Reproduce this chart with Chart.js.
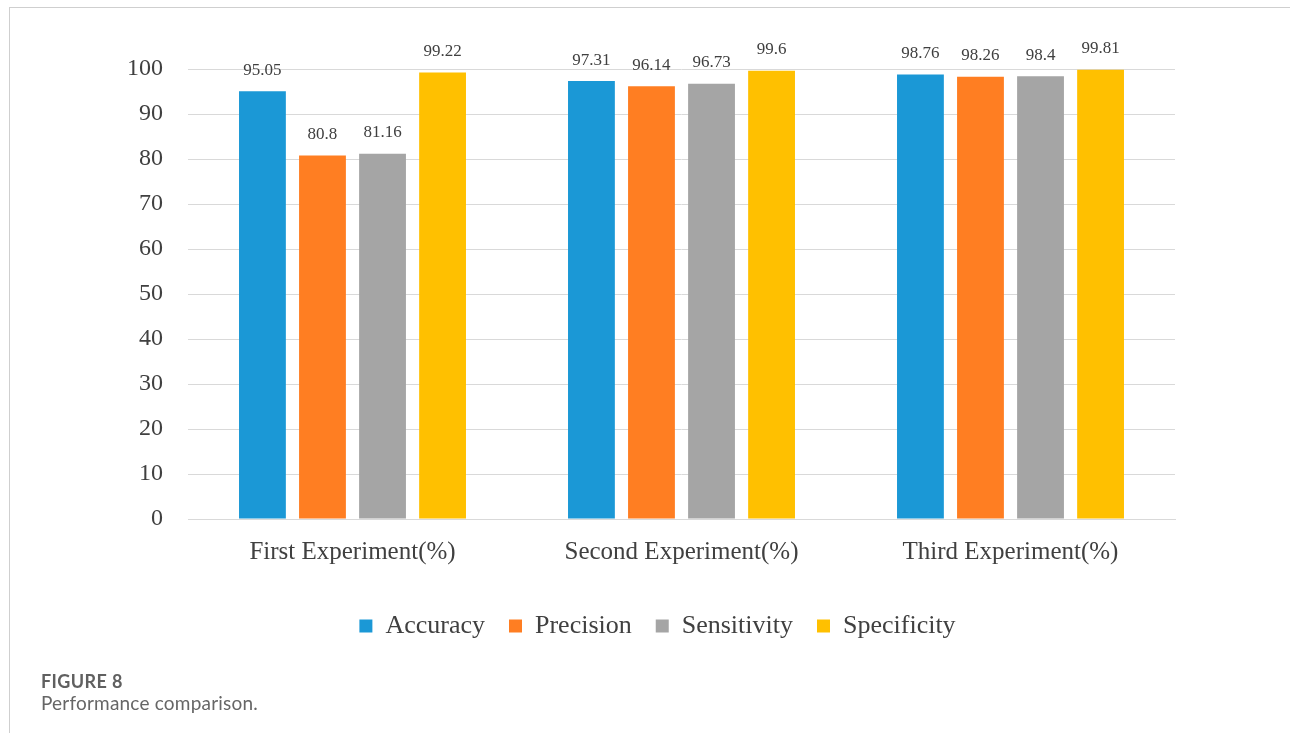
<!DOCTYPE html>
<html>
<head>
<meta charset="utf-8">
<script src="https://cdn.jsdelivr.net/npm/chart.js@4.4.1/dist/chart.umd.min.js"></script>
<style>
    html, body { margin: 0; padding: 0; background: #fff; }
    #wrap { position: relative; width: 1290px; height: 733px; overflow: hidden; }
    #frame { position: absolute; left: 9px; top: 7px; width: 1300px; height: 740px;
             border-top: 1px solid #cfcfcf; border-left: 1px solid #cfcfcf; }
    #chart { position: absolute; left: 0; top: 0; }
    .cap { position: absolute; left: 41px; font-family: Lato, 'Open Sans', sans-serif; color: #5a5a5a; }
    #figNo { top: 670px; font-size: 18px; font-weight: 700; letter-spacing: 0.4px; color: #606060; }
    #figText { top: 691px; font-size: 19px; letter-spacing: 0.2px; color: #666; }
</style>
</head>
<body>
<div id="wrap">
    <div id="frame"></div>
    <canvas id="chart" width="1290" height="733"></canvas>
    <div class="cap" id="figNo">FIGURE 8</div>
    <div class="cap" id="figText">Performance comparison.</div>
</div>
<script>
// --- Data ---
const categories = ['First Experiment(%)', 'Second Experiment(%)', 'Third Experiment(%)'];
const seriesNames = ['Accuracy', 'Precision', 'Sensitivity', 'Specificity'];
const accuracy = [95.05, 97.31, 98.76];
const precision = [80.8, 96.14, 98.26];
const sensitivity = [81.16, 96.73, 98.4];
const specificity = [99.22, 99.6, 99.81];
const seriesColors = ['#1B98D6', '#FF7E22', '#A5A5A5', '#FFC000'];

const serif = "'Liberation Serif', 'Times New Roman', serif";

// --- Value labels above each bar ---
const valueLabels = {
    id: 'valueLabels',
    afterDatasetsDraw(chart) {
        const ctx = chart.ctx;
        ctx.save();
        ctx.font = '17px ' + serif;
        ctx.fillStyle = '#404040';
        ctx.textAlign = 'center';
        ctx.textBaseline = 'middle';
        chart.data.datasets.forEach((ds, i) => {
            chart.getDatasetMeta(i).data.forEach((bar, j) => {
                ctx.fillText(String(ds.data[j]), bar.x, bar.y - 21);
            });
        });
        ctx.restore();
    }
};

const allSeries = [accuracy, precision, sensitivity, specificity];

new Chart(document.getElementById('chart'), {
    type: 'bar',
    data: {
        labels: categories,
        datasets: allSeries.map((vals, i) => ({
            label: seriesNames[i],
            data: vals,
            backgroundColor: seriesColors[i],
            categoryPercentage: 0.73,
            barPercentage: 0.78
        }))
    },
    options: {
        responsive: false,
        animation: false,
        layout: { padding: { left: 29, right: 4, top: 69, bottom: 84 } },
        plugins: {
            legend: {
                position: 'bottom',
                labels: {
                    boxWidth: 13,
                    boxHeight: 13,
                    padding: 24,
                    color: '#404040',
                    font: { family: serif, size: 26 }
                }
            },
            tooltip: { enabled: false }
        },
        scales: {
            x: {
                grid: { display: false, drawTicks: false },
                border: { display: true, color: '#d9d9d9' },
                ticks: { color: '#404040', padding: 18, font: { family: serif, size: 25 } },
                afterFit(s) { s.height = 70; }
            },
            y: {
                min: 0,
                max: 100,
                grid: { color: '#d9d9d9', drawTicks: false },
                border: { display: false },
                ticks: { stepSize: 10, color: '#404040', padding: 25, font: { family: serif, size: 24 } },
                afterFit(s) { s.width = 159; }
            },
            // empty right-hand spacer so the legend sits off-centre like the original
            spacer: {
                position: 'right',
                grid: { display: false, drawTicks: false },
                border: { display: false },
                ticks: { display: false },
                afterFit(s) { s.width = 111; }
            }
        }
    },
    plugins: [valueLabels]
});
</script>
</body>
</html>
